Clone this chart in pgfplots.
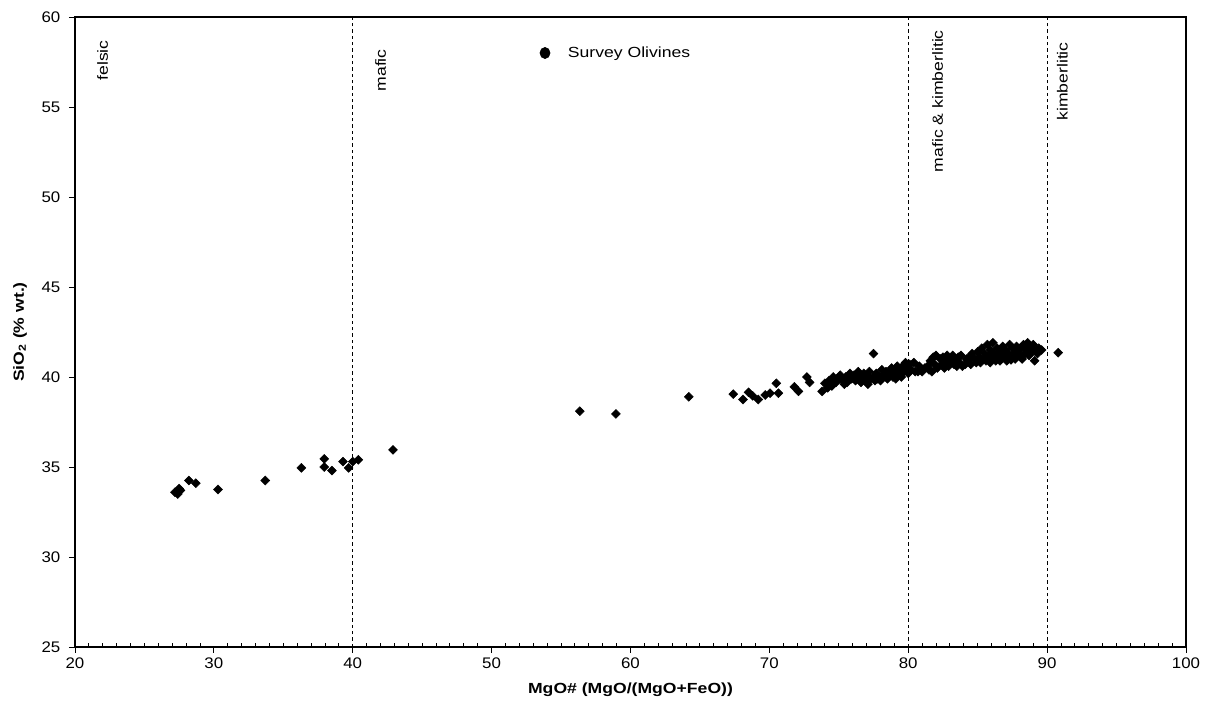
\documentclass[border=0pt]{standalone}
\usepackage{pgfplots}
\pgfplotsset{compat=1.18}
\usepackage{fontspec}
\setmainfont{Liberation Sans}
\usepackage{graphicx}
\newcommand{\wide}[1]{\scalebox{1.2}[1]{#1}}
\newcommand{\tf}{\fontsize{11}{13}\selectfont}
\begin{document}
\begin{tikzpicture}
\useasboundingbox (-56.25pt,-41.25pt) rectangle (848.25pt,485.25pt);
\begin{axis}[
  scale only axis, width=833.25pt, height=472.5pt,
  xmin=20, xmax=100, ymin=25, ymax=60,
  xtick distance=10, ytick distance=5,
  minor x tick num=9,
  xtick pos=left, ytick pos=left,
  tick align=outside,
  major tick length=4.5pt, minor tick length=3pt,
  every minor tick/.append style={yshift=3pt},
  axis line style={line width=0.8pt},
  every tick/.append style={line width=0.7pt, black},
  /pgf/number format/assume math mode=true,
  tick label style={font=\fontsize{11.5}{13}\selectfont},
  xticklabel={\scalebox{1.1}[1]{\pgfmathprintnumber{\tick}}},
  yticklabel={\scalebox{1.1}[1]{\pgfmathprintnumber{\tick}}},
  yticklabel style={xshift=-3pt},
  xlabel={\wide{\bfseries MgO\# (MgO/(MgO+FeO))}},
  ylabel={\wide{\bfseries SiO\textsubscript{2} (\% wt.)}},
  xlabel style={font=\tf, at={(axis description cs:0.5,0)}, anchor=center, yshift=-32.25pt},
  ylabel style={font=\tf, at={(axis description cs:0,0.5)}, anchor=center, yshift=41.25pt},
  legend style={at={(axis cs:53.46,58)}, anchor=west, draw=none, fill=none,
    inner sep=0pt, outer sep=0pt, font=\tf, legend cell align=left},
  legend image code/.code={\fill[black] (0pt,0pt) ellipse (3.8pt and 4.2pt); \path (15pt,0pt);},
  clip=false,
]
\addlegendimage{only marks}
\addlegendentry{\wide{Survey Olivines}}
\draw[black, line width=0.7pt, dash pattern=on 2.5pt off 2.25pt] (axis cs:40,25) -- (axis cs:40,60);
\draw[black, line width=0.7pt, dash pattern=on 2.5pt off 2.25pt] (axis cs:80,25) -- (axis cs:80,60);
\draw[black, line width=0.7pt, dash pattern=on 2.5pt off 2.25pt] (axis cs:90,25) -- (axis cs:90,60);
\node[rotate=90, anchor=north east, inner sep=0pt, font=\tf] at (axis cs:21.58,58.72) {\wide{felsic}};
\node[rotate=90, anchor=north east, inner sep=0pt, font=\tf] at (axis cs:41.6,58.22) {\wide{mafic}};
\node[rotate=90, anchor=north east, inner sep=0pt, font=\tf] at (axis cs:81.7,59.28) {\wide{mafic \& kimberlitic}};
\node[rotate=90, anchor=north east, inner sep=0pt, font=\tf] at (axis cs:90.7,58.61) {\wide{kimberlitic}};
\addplot[only marks, mark=square*, mark size=2.35pt, mark options={rotate=45, fill=black, draw=black}, forget plot] coordinates {
(27.2,33.6) (27.4,33.5) (27.6,33.7) (27.5,33.8) (27.3,33.6)
(28.2,34.25) (28.7,34.1) (30.3,33.75) (33.7,34.25) (36.3,34.95)
(37.95,35.45) (37.95,35.0) (38.5,34.8) (39.3,35.3) (39.7,34.95)
(40.0,35.3) (40.4,35.4) (42.9,35.95)
(56.35,38.1) (58.95,37.95) (64.2,38.9) (67.4,39.05) (68.1,38.75)
(68.5,39.15) (68.8,38.95) (69.2,38.75) (69.7,39.0) (70.05,39.1)
(70.5,39.65) (70.65,39.1) (71.8,39.45) (72.1,39.2) (72.7,40.0)
(72.9,39.7) (73.8,39.2) (74.0,39.65)
(74.2,39.4) (74.3,39.8) (74.5,39.5) (74.6,40.0) (74.8,39.7)
(75.0,39.9) (75.1,40.1) (75.3,39.8) (75.5,40.0) (75.6,39.7)
(75.8,40.2) (75.9,39.9) (76.1,40.1) (76.2,39.8) (76.4,40.3)
(76.5,40.0) (76.6,39.7) (76.8,40.2) (76.9,39.9) (77.0,40.1)
(77.1,39.6) (77.2,40.3) (77.3,39.9) (77.5,41.3) (77.5,40.0)
(77.6,39.8) (77.7,40.2) (77.9,40.0) (78.0,39.8) (78.1,40.4)
(78.2,40.1) (78.4,40.3) (78.5,39.9) (78.6,40.2) (78.8,40.5)
(78.9,40.0) (79.0,40.3) (79.1,39.9) (79.2,40.6) (79.3,40.2)
(79.4,40.4) (79.5,40.0) (79.6,40.6) (79.7,40.3) (79.8,40.8)
(79.9,40.5) (80.0,40.2) (80.1,40.7) (80.2,40.4) (80.4,40.8)
(80.5,40.3) (80.7,40.3) (80.9,40.4) (81.0,40.3) (81.2,40.5)
(81.4,40.6) (81.5,40.4) (81.6,40.9) (81.8,41.1) (81.9,40.7)
(82.0,41.2) (82.1,40.5) (82.3,41.0) (82.4,40.7) (82.5,41.1)
(82.7,40.8) (82.8,41.2) (82.9,40.6) (83.0,41.0) (83.1,40.8)
(83.2,41.2) (83.4,40.9) (83.5,40.6) (83.6,41.1) (83.7,40.8)
(83.8,41.2) (83.9,40.6) (84.1,40.7) (84.3,40.9) (84.4,41.1)
(84.5,40.7) (84.6,41.3) (84.8,41.0) (84.9,40.8) (85.0,41.4)
(85.1,41.1) (85.2,40.8) (85.3,41.6) (85.4,41.0) (85.5,41.3)
(85.6,40.9) (85.7,41.8) (85.8,41.2) (85.9,41.5) (86.0,41.0)
(86.1,41.9) (86.2,41.3) (86.3,40.9) (86.4,41.6) (86.5,41.1)
(86.6,41.4) (86.7,41.0) (86.8,41.7) (86.9,41.2) (87.0,41.5)
(87.1,40.9) (87.2,41.3) (87.3,41.8) (87.4,41.1) (87.5,41.6)
(87.6,41.3) (87.7,41.0) (87.8,41.7) (87.9,41.4) (88.0,41.2)
(88.1,41.6) (88.2,41.0) (88.3,41.8) (88.4,41.3) (88.5,41.5)
(88.6,41.9) (88.7,41.2) (88.8,41.6) (88.9,41.4) (89.0,41.8)
(89.1,40.9) (89.2,41.5) (89.3,41.3) (89.4,41.6) (89.6,41.5)
(85.2,41.0) (85.9,40.8) (86.6,40.9) (87.4,40.95) (88.1,41.1)
(84.2,41.0) (83.3,40.7) (82.6,40.5) (81.7,40.3) (80.8,40.6)
(76.0,39.95) (76.7,40.05) (77.8,39.9) (78.3,40.15) (75.4,39.6)
(90.8,41.35)
};
\end{axis}
\end{tikzpicture}
\end{document}
